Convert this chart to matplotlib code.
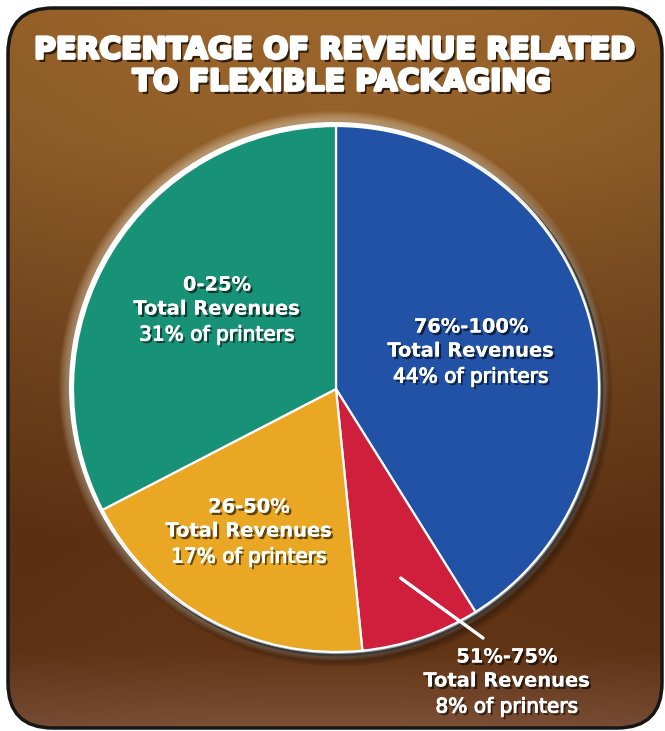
import matplotlib
matplotlib.use("Agg")
import matplotlib.pyplot as plt
import matplotlib.patheffects as pe
from matplotlib.patches import FancyBboxPatch, Circle
from matplotlib.colors import to_rgb
import numpy as np

W, H = 665, 731

# wedges clockwise from 12 o'clock (shares as drawn in the graphic)
ranges = ["76%-100%", "51%-75%", "26-50%", "0-25%"]
printers = [44, 8, 17, 31]
shares = [41.1, 7.3, 19.0, 32.6]
colors = ["#2152a6", "#cf1f3c", "#e9a723", "#189277"]

title_lines = ["PERCENTAGE OF REVENUE RELATED", "TO FLEXIBLE PACKAGING"]

fig = plt.figure(figsize=(W / 100, H / 100), dpi=100)
fig.patch.set_facecolor("white")
ax = fig.add_axes([0, 0, 1, 1])

# rounded brown panel with vertical gradient
panel = FancyBboxPatch((8, 3), 654, 720, boxstyle="round,pad=0,rounding_size=45",
                       fc="none", ec="#161616", lw=2.5, zorder=6)
ax.add_patch(panel)

stops_y = [0, 140, 330, 540, 650, 731]
stops_c = ["#9d662b", "#93602a", "#77481f", "#5f3213", "#633516", "#7e5139"]
rgb = np.array([to_rgb(c) for c in stops_c])
yy = np.arange(H)
col = np.stack([np.interp(yy, stops_y, rgb[:, i]) for i in range(3)], axis=1)
img = np.repeat(col[:, None, :], W, axis=1)
xx = (np.arange(W) - W / 2) / (W / 2)
img = img * (1.0 - 0.06 * xx[None, :, None] ** 2)
im = ax.imshow(np.clip(img, 0, 1), extent=(0, W, 0, H), origin="upper", zorder=1)
im.set_clip_path(panel)

cx, cy, R = 336, H - 389, 263

# glow / shadow around the pie
for k in range(10):
    ax.add_patch(Circle((cx + 3, cy - 4), R + 2 + k, fc="black", alpha=0.045, lw=0, zorder=2))
for k in range(10):
    ax.add_patch(Circle((cx - 2, cy + 3), R + 3 + k, fc="#fff3dc", alpha=0.05, lw=0, zorder=2))
ax.add_patch(Circle((cx + 1.5, cy - 1.5), R + 3, fc="#3a3a3a", lw=0, zorder=3))
ax.add_patch(Circle((cx - 1.5, cy + 1.5), R + 2.5, fc="white", lw=0, zorder=3))
ax.add_patch(Circle((cx + 0.8, cy - 0.8), R + 1.2, fc="#9a9a9a", lw=0, zorder=3))

wedges, _ = ax.pie(shares, colors=colors, startangle=90, counterclock=False,
                   center=(cx, cy), radius=R, frame=True,
                   wedgeprops=dict(edgecolor="white", linewidth=1.6))
for w in wedges:
    w.set_zorder(4)

ax.set_xlim(0, W)
ax.set_ylim(0, H)
ax.set_aspect("equal")
ax.axis("off")

shadow = [pe.withSimplePatchShadow(offset=(1.6, -1.8), shadow_rgbFace="black", alpha=0.6),
          pe.Normal()]
shadow_med = [pe.withSimplePatchShadow(offset=(1.6, -1.8), shadow_rgbFace="black", alpha=0.6),
              pe.withStroke(linewidth=0.7, foreground="white")]
title_fx = [pe.withSimplePatchShadow(offset=(2, -2.5), shadow_rgbFace="black", alpha=0.7),
            pe.withStroke(linewidth=2.0, foreground="white")]

ax.text(335, H - 50, title_lines[0], ha="center", va="center", color="white",
        fontsize=21.5, fontweight="heavy", path_effects=title_fx, zorder=8)
ax.text(342, H - 82, title_lines[1], ha="center", va="center", color="white",
        fontsize=21.5, fontweight="heavy", path_effects=title_fx, zorder=8)

# label positions (px from top), one per wedge
label_xy = [(471, 327), (507, 657), (249, 507), (217, 285)]
for (lx, ly), rng, p in zip(label_xy, ranges, printers):
    y0 = H - ly
    ax.text(lx, y0, rng, ha="center", va="center", color="white", fontsize=14,
            fontweight="bold", path_effects=shadow, zorder=8)
    ax.text(lx, y0 - 24, "Total Revenues", ha="center", va="center", color="white",
            fontsize=14, fontweight="bold", path_effects=shadow, zorder=8)
    ax.text(lx, y0 - 50, f"{p}% of printers", ha="center", va="center", color="white",
            fontsize=14.5, path_effects=shadow_med, zorder=8)

# leader line from the small red wedge
red = wedges[1]
mid = np.deg2rad((red.theta1 + red.theta2) / 2)
x0, y0 = cx + 0.76 * R * np.cos(mid), cy + 0.76 * R * np.sin(mid)
ax.plot([x0, 483], [y0, H - 638], color="white", lw=2.2, solid_capstyle="round", zorder=7,
        path_effects=[pe.withSimplePatchShadow(offset=(1, -1.2), shadow_rgbFace="black", alpha=0.5),
                      pe.Normal()])

fig.savefig("out.png", dpi=100, facecolor="white")
